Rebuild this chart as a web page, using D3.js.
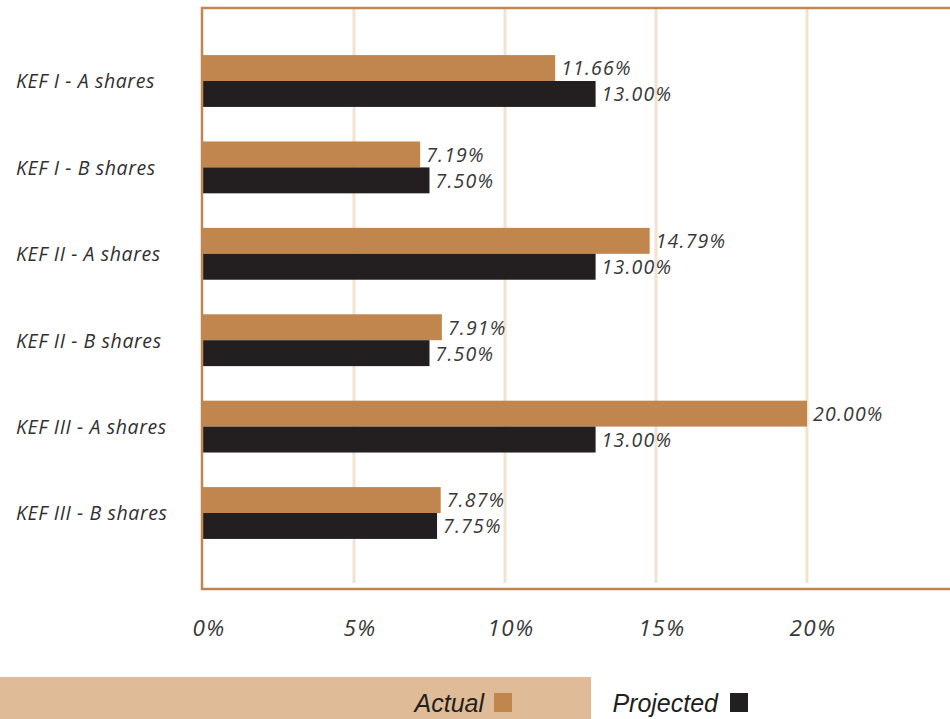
<!DOCTYPE html>
<html>
<head>
<meta charset="utf-8">
<script src="https://cdn.jsdelivr.net/npm/d3@7"></script>
<style>
  html, body { margin: 0; padding: 0; background: #fff; }
  svg { display: block; }
</style>
</head>
<body>
<svg id="chart" width="950" height="719"></svg>
<script>
// Fund names, one row each
const funds = [
  "KEF I - A shares",
  "KEF I - B shares",
  "KEF II - A shares",
  "KEF II - B shares",
  "KEF III - A shares",
  "KEF III - B shares"
];
// Returns in percent
const actual    = [11.66, 7.19, 14.79, 7.91, 20.00, 7.87];
const projected = [13.00, 7.50, 13.00, 7.50, 13.00, 7.75];
const seriesNames = ["Actual", "Projected"];
const tickValues = [0, 5, 10, 15, 20];

const colors = { Actual: "#c0864e", Projected: "#231f20" };
const frameColor = "#c0864e";
const gridColor = "#f3e2cf";
const labelFont = "'Open Sans', 'Noto Sans', sans-serif";
const labelWeight = 400;

const svg = d3.select("#chart");

const plot = { left: 203, top: 8, bottom: 589 };

const x = d3.scaleLinear().domain([0, 25]).range([plot.left, plot.left + 25 * 30.2]);
const y = d3.scaleBand().domain(funds).range([37.8, 556.2]).paddingInner(0.4).paddingOuter(0.2);
const ySub = d3.scaleBand().domain(seriesNames).range([0, y.bandwidth()]);

// Vertical gridlines
svg.append("g").selectAll("line")
  .data(tickValues.filter(d => d > 0))
  .join("line")
  .attr("x1", d => x(d)).attr("x2", d => x(d))
  .attr("y1", plot.top).attr("y2", plot.bottom - 6)
  .attr("stroke", gridColor).attr("stroke-width", 3);

// Bars
const rows = funds.map((f, i) => ({ fund: f, values: [
  { key: "Actual", value: actual[i] },
  { key: "Projected", value: projected[i] }
]}));

const groups = svg.append("g").selectAll("g")
  .data(rows).join("g")
  .attr("transform", d => `translate(0,${y(d.fund)})`);

groups.selectAll("rect")
  .data(d => d.values).join("rect")
  .attr("x", x(0))
  .attr("y", d => ySub(d.key))
  .attr("width", d => x(d.value) - x(0))
  .attr("height", ySub.bandwidth())
  .attr("fill", d => colors[d.key]);

// Value labels
groups.selectAll("text")
  .data(d => d.values).join("text")
  .attr("x", d => x(d.value) + 6)
  .attr("y", d => ySub(d.key) + ySub.bandwidth() / 2)
  .attr("dy", "0.38em")
  .attr("font-family", labelFont)
  .attr("font-style", "italic")
  .attr("font-weight", labelWeight)
  .attr("font-size", 19.5)
  .attr("letter-spacing", 1.2)
  .attr("fill", "#383838")
  .text(d => d.value.toFixed(2) + "%");

// Frame: top, left, bottom (open to the right)
svg.append("path")
  .attr("d", `M950,${plot.top}H${plot.left - 1}V${plot.bottom}H950`)
  .attr("fill", "none")
  .attr("stroke", frameColor)
  .attr("stroke-width", 2.5);

// Category labels
svg.append("g").selectAll("text")
  .data(funds).join("text")
  .attr("x", 16)
  .attr("y", d => y(d) + y.bandwidth() / 2)
  .attr("dy", "0.38em")
  .attr("font-family", labelFont)
  .attr("font-style", "italic")
  .attr("font-weight", labelWeight)
  .attr("font-size", 19.5)
  .attr("letter-spacing", 0.6)
  .attr("fill", "#303030")
  .text(d => d);

// X axis tick labels
svg.append("g").selectAll("text")
  .data(tickValues).join("text")
  .attr("x", d => x(d) + 6)
  .attr("y", 628)
  .attr("dy", "0.36em")
  .attr("text-anchor", "middle")
  .attr("font-family", labelFont)
  .attr("font-style", "italic")
  .attr("font-weight", labelWeight)
  .attr("font-size", 22.5)
  .attr("letter-spacing", 1.4)
  .attr("fill", "#383838")
  .text(d => d + "%");

// Legend
const legend = svg.append("g");
legend.append("rect")
  .attr("x", 0).attr("y", 677).attr("width", 591).attr("height", 42)
  .attr("fill", "#dfbb97");

const legendItems = [
  { key: "Actual", textEnd: 484, box: 494 },
  { key: "Projected", textEnd: 718, box: 730 }
];
legendItems.forEach(it => {
  legend.append("text")
    .attr("x", it.textEnd).attr("y", 712)
    .attr("text-anchor", "end")
    .attr("font-family", "'Liberation Sans', Arial, sans-serif")
    .attr("font-style", "italic")
    .attr("font-size", 25)
    .attr("fill", "#231f20")
    .text(it.key);
  legend.append("rect")
    .attr("x", it.box).attr("y", 693).attr("width", 18).attr("height", 19)
    .attr("fill", colors[it.key]);
});
</script>
</body>
</html>
